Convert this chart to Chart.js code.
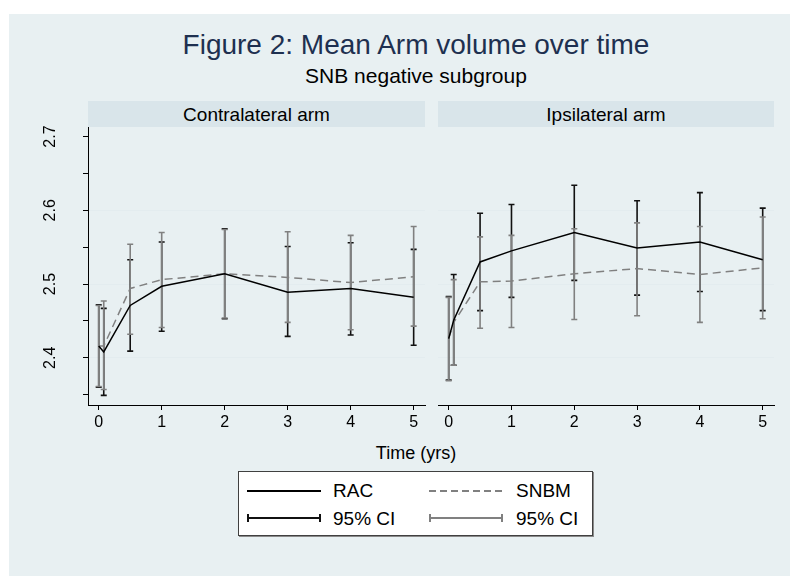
<!DOCTYPE html>
<html>
<head>
<meta charset="utf-8">
<script src="https://cdn.jsdelivr.net/npm/chart.js@4.4.1/dist/chart.umd.min.js"></script>
<style>
  html, body { margin: 0; padding: 0; background: #fff; }
  #frame { position: relative; width: 790px; height: 576px; overflow: hidden;
           font-family: "Liberation Sans", Arial, sans-serif; color: #000; }
  #bg { position: absolute; left: 9px; top: 14px; right: 0; bottom: 0; background: #e8f0f2; }
  .abs { position: absolute; }
  #title { left: 0; width: 832px; top: 31px; text-align: center; font-size: 28px; line-height: 1; color: #1e3050; }
  #subtitle { left: 0; width: 832px; top: 65px; text-align: center; font-size: 21px; line-height: 1; }
  .head { top: 101px; height: 26px; line-height: 27px; background: #d9e5ea; text-align: center; font-size: 19px; }
  #xtitle { left: 0; width: 832px; top: 444px; text-align: center; font-size: 18px; line-height: 1; }
  #legend { left: 238px; top: 471px; width: 353px; height: 63px; background: #fff;
            border: 1px solid #404040; box-shadow: 1px 1px 0 #8a8a8a; }
  .sw { position: absolute; width: 74px; }
  .dash { height: 1.5px; background: repeating-linear-gradient(to right, #808080 0 7px, transparent 7px 11px); }
  .ci { position: absolute; width: 74px; height: 8px; box-sizing: border-box;
        border-left: 2px solid currentColor; border-right: 2px solid currentColor; }
  .ci::after { content: ''; position: absolute; left: 0; right: 0; top: 3px; height: 2px; background: currentColor; }
  .lt { position: absolute; font-size: 19px; line-height: 1; }
  canvas { position: absolute; }
</style>
</head>
<body>
<div id="frame">
  <div id="bg"></div>
  <div id="title" class="abs">Figure 2: Mean Arm volume over time</div>
  <div id="subtitle" class="abs">SNB negative subgroup</div>
  <div class="abs head" style="left:88px;width:337px;">Contralateral arm</div>
  <div class="abs head" style="left:438px;width:336px;">Ipsilateral arm</div>

  <canvas id="leftChart" width="430" height="323" style="left:0;top:112px;"></canvas>
  <canvas id="rightChart" width="360" height="323" style="left:430px;top:112px;"></canvas>

  <div id="xtitle" class="abs">Time (yrs)</div>

  <div id="legend" class="abs">
    <div class="sw" style="left:8px;top:18px;height:1.5px;background:#000;"></div>
    <div class="lt" style="left:94px;top:9px;">RAC</div>
    <div class="sw dash" style="left:190px;top:18px;"></div>
    <div class="lt" style="left:277px;top:9px;">SNBM</div>
    <div class="ci" style="left:8px;top:42px;color:#111;"></div>
    <div class="lt" style="left:94px;top:37px;">95% CI</div>
    <div class="ci" style="left:190px;top:42px;color:#808080;"></div>
    <div class="lt" style="left:277px;top:37px;">95% CI</div>
  </div>
</div>

<script>
// Time points (years) and axis ticks
const times = [0, 0.08, 0.5, 1, 2, 3, 4, 5];
const xTicks = [0, 1, 2, 3, 4, 5];
const yMajorTicks = [2.4, 2.5, 2.6, 2.7];
const yMinorTicks = [2.35, 2.45, 2.55, 2.65];
const yGridLines = [2.4, 2.5, 2.6];

// Contralateral arm
const contraRacMean  = [2.416, 2.408, 2.471, 2.497, 2.514, 2.489, 2.494, 2.482];
const contraRacLow   = [2.360, 2.349, 2.409, 2.436, 2.453, 2.429, 2.431, 2.417];
const contraRacHigh  = [2.472, 2.467, 2.533, 2.557, 2.575, 2.551, 2.556, 2.547];
const contraSnbmMean = [2.416, 2.416, 2.494, 2.506, 2.514, 2.509, 2.502, 2.510];
const contraSnbmLow  = [2.361, 2.357, 2.432, 2.441, 2.454, 2.448, 2.438, 2.443];
const contraSnbmHigh = [2.471, 2.477, 2.554, 2.570, 2.574, 2.571, 2.566, 2.578];

// Ipsilateral arm
const ipsiRacMean  = [2.426, 2.451, 2.530, 2.545, 2.570, 2.549, 2.557, 2.533];
const ipsiRacLow   = [2.370, 2.390, 2.464, 2.482, 2.505, 2.485, 2.490, 2.464];
const ipsiRacHigh  = [2.483, 2.513, 2.596, 2.608, 2.634, 2.613, 2.624, 2.603];
const ipsiSnbmMean = [2.426, 2.448, 2.503, 2.504, 2.514, 2.521, 2.513, 2.522];
const ipsiSnbmLow  = [2.369, 2.390, 2.440, 2.441, 2.452, 2.457, 2.448, 2.453];
const ipsiSnbmHigh = [2.482, 2.506, 2.564, 2.566, 2.575, 2.583, 2.578, 2.591];

const X_MIN = -0.17, X_MAX = 5.18;
const Y_MIN = 2.336, Y_MAX = 2.713;
const FONT = '"Liberation Sans", Arial, sans-serif';

// confidence interval caps, drawn under the mean lines
const ciPlugin = {
  id: 'ciBars',
  beforeDatasetsDraw(chart) {
    const { ctx, scales: { x, y } } = chart;
    ctx.save();
    chart.data.datasets.forEach(ds => {
      ctx.strokeStyle = ds.ciColor;
      ctx.lineWidth = 1.6;
      times.forEach((t, i) => {
        const px = x.getPixelForValue(t);
        const lo = y.getPixelForValue(ds.ciLow[i]);
        const hi = y.getPixelForValue(ds.ciHigh[i]);
        ctx.beginPath();
        ctx.moveTo(px, lo); ctx.lineTo(px, hi);
        ctx.moveTo(px - 3, lo); ctx.lineTo(px + 3, lo);
        ctx.moveTo(px - 3, hi); ctx.lineTo(px + 3, hi);
        ctx.stroke();
      });
    });
    ctx.restore();
  }
};

// rotated y tick labels (left panel only)
const yLabelPlugin = {
  id: 'yLabels',
  afterDraw(chart) {
    const { ctx, scales: { y } } = chart;
    ctx.save();
    ctx.font = '16px ' + FONT;
    ctx.fillStyle = '#000';
    ctx.textAlign = 'center';
    ctx.textBaseline = 'middle';
    yMajorTicks.forEach(v => {
      ctx.save();
      ctx.translate(51, y.getPixelForValue(v));
      ctx.rotate(-Math.PI / 2);
      ctx.fillText(v.toFixed(1), 0, 0);
      ctx.restore();
    });
    ctx.restore();
  }
};

function points(means) {
  return times.map((t, i) => ({ x: t, y: means[i] }));
}

function makePanel(canvasId, series, isLeft) {
  const ctx = document.getElementById(canvasId).getContext('2d');
  const allY = yMinorTicks.concat(yMajorTicks).sort((a, b) => a - b);
  return new Chart(ctx, {
    type: 'line',
    data: {
      datasets: [{
        label: 'RAC',
        data: points(series.racMean),
        ciLow: series.racLow, ciHigh: series.racHigh, ciColor: '#111',
        borderColor: '#000', borderWidth: 1.5, pointRadius: 0, tension: 0,
      }, {
        label: 'SNBM',
        data: points(series.snbmMean),
        ciLow: series.snbmLow, ciHigh: series.snbmHigh, ciColor: '#808080',
        borderColor: '#808080', borderWidth: 1.5, borderDash: [8, 5], pointRadius: 0, tension: 0,
      }]
    },
    options: {
      responsive: false, animation: false, devicePixelRatio: 1,
      layout: { padding: isLeft ? { left: 0, right: 5, top: 15, bottom: 0 }
                                : { left: 8, right: 16, top: 15, bottom: 0 } },
      plugins: { legend: { display: false }, tooltip: { enabled: false } },
      scales: {
        x: {
          type: 'linear', min: X_MIN, max: X_MAX,
          afterBuildTicks: s => { s.ticks = xTicks.map(v => ({ value: v })); },
          afterFit: s => { s.height = 30; },
          ticks: { color: '#000', font: { family: FONT, size: 16 }, padding: 3,
                   maxRotation: 0, callback: v => String(v) },
          grid: { drawOnChartArea: false, tickLength: 5, color: '#000' },
          border: { color: '#000', width: 1 }
        },
        y: {
          min: Y_MIN, max: Y_MAX,
          afterBuildTicks: s => { s.ticks = allY.map(v => ({ value: v })); },
          afterFit: s => { s.width = isLeft ? 88 : 0; },
          ticks: { display: false },
          grid: {
            color: c => yGridLines.includes(c.tick.value) ? '#e3ecef' : 'rgba(0,0,0,0)',
            tickColor: '#000', tickLength: 5, drawTicks: isLeft, lineWidth: 1
          },
          border: { display: isLeft, color: '#000', width: 1 }
        }
      }
    },
    plugins: isLeft ? [ciPlugin, yLabelPlugin] : [ciPlugin]
  });
}

makePanel('leftChart', {
  racMean: contraRacMean, racLow: contraRacLow, racHigh: contraRacHigh,
  snbmMean: contraSnbmMean, snbmLow: contraSnbmLow, snbmHigh: contraSnbmHigh
}, true);

makePanel('rightChart', {
  racMean: ipsiRacMean, racLow: ipsiRacLow, racHigh: ipsiRacHigh,
  snbmMean: ipsiSnbmMean, snbmLow: ipsiSnbmLow, snbmHigh: ipsiSnbmHigh
}, false);
</script>
</body>
</html>
